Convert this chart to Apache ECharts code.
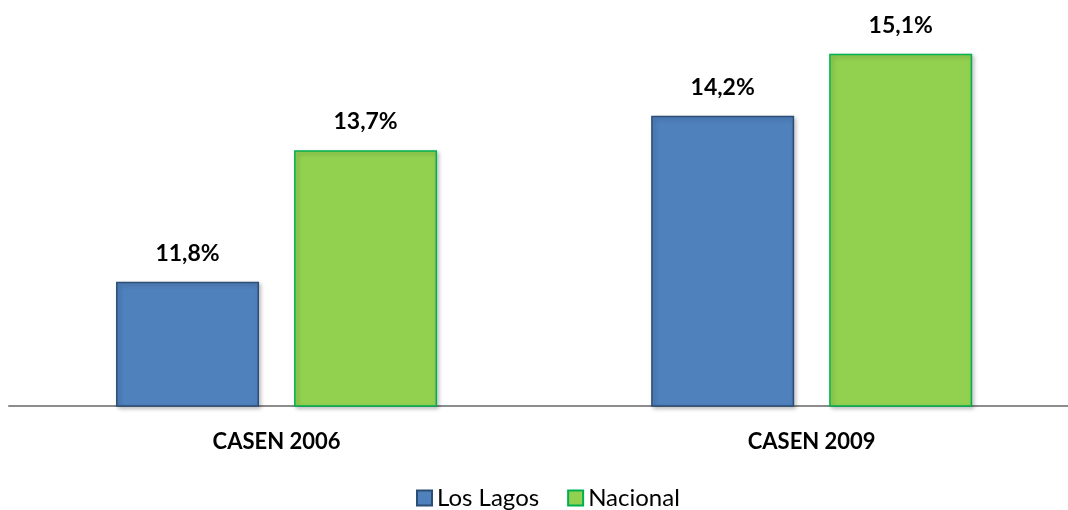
<!DOCTYPE html>
<html><head><meta charset="utf-8">
<script src="https://cdn.jsdelivr.net/npm/echarts@6/dist/echarts.min.js"></script>
<style>html,body{margin:0;padding:0;background:#fff}#c{width:1068px;height:510px}</style>
</head><body><div id="c"></div>
<script>
const categories = ['CASEN 2006', 'CASEN 2009'];
const losLagos = [11.8, 14.2];
const nacional = [13.7, 15.1];
const seriesNames = ['Los Lagos', 'Nacional'];

const chart = echarts.init(document.getElementById('c'));
const fmt = p => p.value[1].toFixed(1).replace('.', ',') + '%';
const font = 'Lato, "Open Sans", sans-serif';
const idx = categories.map((c, i) => i);
chart.setOption({
  animation: false,
  textStyle: { fontFamily: font },
  grid: { left: 9, right: 0, top: 26, bottom: 104 },
  legend: {
    top: 481, left: 411,
    itemWidth: 15, itemHeight: 15, itemGap: 28,
    icon: 'rect',
    textStyle: { fontSize: 24, color: '#000', fontFamily: font },
    data: seriesNames
  },
  xAxis: {
    type: 'value', min: -0.5, max: 1.479,
    splitLine: { show: false },
    axisLine: { show: true, onZero: false, lineStyle: { color: '#8c8c8c', width: 2 } },
    axisTick: { show: false },
    axisLabel: {
      customValues: idx,
      formatter: v => categories[Math.round(v)] || '',
      fontWeight: 'bold', fontSize: 22, color: '#000', margin: 25, fontFamily: font
    }
  },
  yAxis: {
    type: 'value', min: 10, max: 15.5, show: false,
    splitLine: { show: false }
  },
  series: [
    {
      name: seriesNames[0], type: 'bar', data: losLagos.map((v, i) => [i, v]),
      barWidth: 143, barGap: '24.5%',
      itemStyle: { color: '#4f81bd', borderColor: '#2c4d75', borderWidth: 1.5,
        shadowColor: 'rgba(0,0,0,0.25)', shadowBlur: 4, shadowOffsetX: 2, shadowOffsetY: 2 },
      label: { show: true, position: 'top', distance: 17, formatter: fmt,
        fontWeight: 'bold', fontSize: 23, color: '#000', fontFamily: font }
    },
    {
      name: seriesNames[1], type: 'bar', data: nacional.map((v, i) => [i, v]),
      barWidth: 143,
      itemStyle: { color: '#92d050', borderColor: '#00b050', borderWidth: 1.5,
        shadowColor: 'rgba(0,0,0,0.25)', shadowBlur: 4, shadowOffsetX: 2, shadowOffsetY: 2 },
      label: { show: true, position: 'top', distance: 17, formatter: fmt,
        fontWeight: 'bold', fontSize: 23, color: '#000', fontFamily: font }
    }
  ]
});
</script></body></html>
